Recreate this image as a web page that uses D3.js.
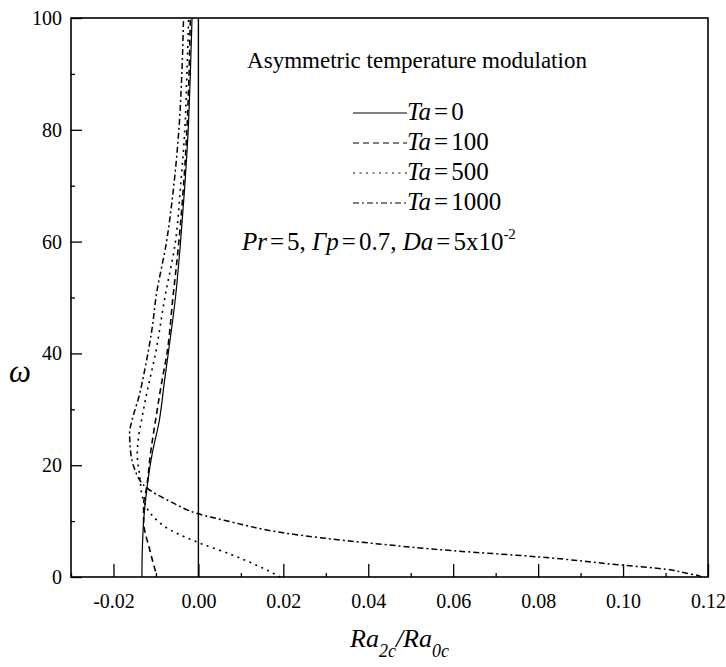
<!DOCTYPE html>
<html>
<head>
<meta charset="utf-8">
<script src="https://cdn.jsdelivr.net/npm/d3@7"></script>
<style>
  body { margin: 0; background: #fff; font-family: "Liberation Serif", "Times New Roman", serif; }
  svg text { font-family: "Liberation Serif", "Times New Roman", serif; }
</style>
</head>
<body>
<svg id="chart" width="726" height="667"></svg>
<script>
// values: omega (y) and Ra2c/Ra0c (x) per curve
const omega0 = [0, 5, 10, 16, 22, 28, 35, 40, 50, 60, 70, 80, 90, 100];
const ratio0 = [-0.0133, -0.0132, -0.0129, -0.0121, -0.0109, -0.0092, -0.0080, -0.0071, -0.0054, -0.0042, -0.0032, -0.0024, -0.0019, -0.0015];

const omega100 = [1, 5, 10, 13, 16, 22, 28, 35, 40, 50, 60, 70, 80, 90, 100];
const ratio100 = [-0.0101, -0.0115, -0.0129, -0.0129, -0.0122, -0.0113, -0.0101, -0.0086, -0.0074, -0.0060, -0.0046, -0.0035, -0.0027, -0.0022, -0.0019];

const omega500 = [0, 2, 4, 6.1, 8.4, 11.4, 14.4, 18, 22, 25, 28, 32, 40, 50, 60, 70, 80, 90, 100];
const ratio500 = [0.0193, 0.0140, 0.0078, 0.0002, -0.0066, -0.0113, -0.0132, -0.0138, -0.0144, -0.0141, -0.0134, -0.0124, -0.0101, -0.0079, -0.0054, -0.0042, -0.0032, -0.0027, -0.0023];

const omega1000 = [0, 0.2, 0.66, 1.4, 2.1, 3.6, 4.7, 6.1, 7.9, 9.9, 11.3, 13.5, 15.9, 19.7, 22.7, 25.8, 28.1, 32.3, 37.6, 45, 50, 60, 70, 80, 90, 100];
const ratio1000 = [0.1185, 0.118, 0.115, 0.11, 0.10, 0.08, 0.06, 0.04, 0.02, 0.0075, 0, -0.0066, -0.0121, -0.0152, -0.016, -0.0162, -0.0156, -0.014, -0.0125, -0.0108, -0.0100, -0.0075, -0.0058, -0.0046, -0.0039, -0.0035];

const taLabels = ['0', '100', '500', '1000'];
const xMajor = [-0.02, 0.00, 0.02, 0.04, 0.06, 0.08, 0.10, 0.12];
const xMinor = [-0.03, -0.01, 0.01, 0.03, 0.05, 0.07, 0.09, 0.11];
const yMajor = [0, 20, 40, 60, 80, 100];
const yMinor = [10, 30, 50, 70, 90];

const series = [
  {omega: omega0, ratio: ratio0, dash: null, w: 1.2},
  {omega: omega100, ratio: ratio100, dash: '6,4', w: 1.6},
  {omega: omega500, ratio: ratio500, dash: '2,4.5', w: 1.6},
  {omega: omega1000, ratio: ratio1000, dash: '6,3,2,3', w: 1.5}
];

const FONT = '"Liberation Serif"';
const svg = d3.select('#chart');
const pL = 71, pR = 708, pT = 18, pB = 577;

const x = d3.scaleLinear().domain([-0.03, 0.12]).range([pL, pR]);
const y = d3.scaleLinear().domain([0, 100]).range([pB, pT]);

// axes: ticks point inward
svg.append('g').attr('transform', `translate(0,${pB})`)
  .call(d3.axisBottom(x).tickValues(xMajor).tickSize(-13).tickPadding(17)
    .tickFormat(d => d.toFixed(2)));
svg.append('g').attr('transform', `translate(0,${pB})`)
  .call(d3.axisBottom(x).tickValues(xMinor).tickSize(-4).tickFormat(''));

svg.append('g').attr('transform', `translate(${pL},0)`)
  .call(d3.axisLeft(y).tickValues(yMajor).tickSize(-11).tickPadding(9));
svg.append('g').attr('transform', `translate(${pL},0)`)
  .call(d3.axisLeft(y).tickValues(yMinor).tickSize(-4).tickFormat(''));

svg.selectAll('.domain').remove();
svg.selectAll('g').attr('font-family', null).attr('font-size', null);
svg.selectAll('.tick line').attr('stroke', '#000').attr('stroke-width', 1.3);
svg.selectAll('.tick text').style('font-family', FONT).attr('font-size', 20);

// frame and zero line
svg.append('rect').attr('x', pL).attr('y', pT)
  .attr('width', pR - pL).attr('height', pB - pT)
  .attr('fill', 'none').attr('stroke', '#000').attr('stroke-width', 1.6);
svg.append('line').attr('x1', x(0)).attr('x2', x(0)).attr('y1', pT).attr('y2', pB)
  .attr('stroke', '#000').attr('stroke-width', 1.4);

const line = d3.line()
  .x(d => x(d[0])).y(d => y(d[1]))
  .curve(d3.curveMonotoneY);

series.forEach(s => {
  const pts = s.omega.map((o, i) => [s.ratio[i], o]);
  svg.append('path').datum(pts).attr('d', line)
    .attr('fill', 'none').attr('stroke', '#000')
    .attr('stroke-width', s.w)
    .attr('stroke-dasharray', s.dash);
});

// annotations
const txt = (xx, yy, size) => svg.append('text').attr('x', xx).attr('y', yy)
  .style('font-family', FONT).attr('font-size', size);

txt(417, 68, 23).attr('text-anchor', 'middle').text('Asymmetric temperature modulation');

series.forEach((s, i) => {
  const yy = 120 + i * 30;
  svg.append('line').attr('x1', 353).attr('x2', 407).attr('y1', yy - 7).attr('y2', yy - 7)
    .attr('stroke', '#000').attr('stroke-width', 1.2).attr('stroke-dasharray', s.dash);
  const t = txt(407, yy, 25);
  t.append('tspan').attr('font-style', 'italic').text('Ta');
  t.append('tspan').attr('dx', 3).text('=');
  t.append('tspan').attr('dx', 3).text(taLabels[i]);
});

const p = txt(242, 250, 25);
p.append('tspan').attr('font-style', 'italic').text('Pr');
p.append('tspan').attr('dx', 3).text('=');
p.append('tspan').attr('dx', 3).text('5, ');
p.append('tspan').attr('font-style', 'italic').text('Γp');
p.append('tspan').attr('dx', 3).text('=');
p.append('tspan').attr('dx', 3).text('0.7, ');
p.append('tspan').attr('font-style', 'italic').text('Da');
p.append('tspan').attr('dx', 3).text('=');
p.append('tspan').attr('dx', 3).text('5x10');
p.append('tspan').attr('font-size', 15).attr('dy', -11).text('-2');

txt(9, 382, 31).attr('font-style', 'italic').text('ω');

const xl = txt(350, 647, 26).attr('font-style', 'italic');
xl.append('tspan').text('Ra');
xl.append('tspan').attr('font-size', 18).attr('dy', 10).text('2c');
xl.append('tspan').attr('dy', -10).text('/Ra');
xl.append('tspan').attr('font-size', 18).attr('dy', 10).text('0c');
</script>
</body>
</html>
